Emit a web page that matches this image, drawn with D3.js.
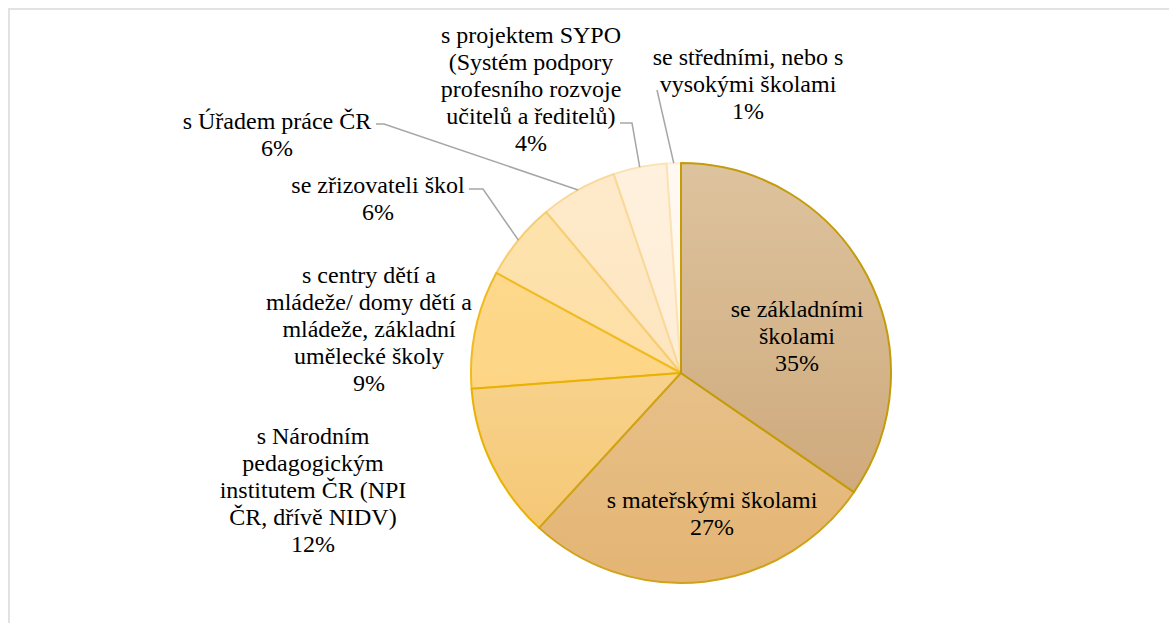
<!DOCTYPE html>
<html>
<head>
<meta charset="utf-8">
<script src="https://cdn.jsdelivr.net/npm/d3@7"></script>
</head>
<body style="margin:0">
<script>
// data
const categories = [
  "se základními školami",
  "s mateřskými školami",
  "s Národním pedagogickým institutem ČR (NPI ČR, dřívě NIDV)",
  "s centry dětí a mládeže/ domy dětí a mládeže, základní umělecké školy",
  "se zřizovateli škol",
  "s Úřadem práce ČR",
  "s projektem SYPO (Systém podpory profesního rozvoje učitelů a ředitelů)",
  "se středními, nebo s vysokými školami"
];
const shares = [34.6, 27.2, 12.0, 9.1, 6.0, 5.9, 4.1, 1.1];
const labelLines = [
  ["se základními", "školami"],
  ["s mateřskými školami"],
  ["s Národním", "pedagogickým", "institutem ČR (NPI", "ČR, dřívě NIDV)"],
  ["s centry dětí a", "mládeže/ domy dětí a", "mládeže, základní", "umělecké školy"],
  ["se zřizovateli škol"],
  ["s Úřadem práce ČR"],
  ["s projektem SYPO", "(Systém podpory", "profesního rozvoje", "učitelů a ředitelů)"],
  ["se středními, nebo s", "vysokými školami"]
];

// styles / layout
const topColors = ["#ddc39e", "#eacb9e", "#fbe0ad", "#fedb92", "#fee4b0", "#feeacb", "#fff1de", "#fff9f1"];
const bottomColors = ["#cba373", "#e4b574", "#f4c46c", "#fdd07a", "#fdd99b", "#fde0b3", "#fee8cd", "#fff5ea"];
const strokeColors = ["#c49b0a", "#cfa21a", "#e9b200", "#f0bb20", "#f6cd70", "#f9d898", "#fbe2b4", "#fdeed8"];
// label anchor (centre x, first baseline) and leader start
const labelPos = [
  { x: 797, y: 317 },
  { x: 712, y: 508 },
  { x: 313, y: 444 },
  { x: 369, y: 283 },
  { x: 378, y: 193 },
  { x: 277, y: 129 },
  { x: 531, y: 43 },
  { x: 748, y: 65 }
];
const leaders = [
  null,
  null,
  null,
  null,
  { x: 469, y: 189, ex: 483 },
  { x: 376, y: 124, ex: 384 },
  { x: 620, y: 123, ex: 632 },
  { x: 657, y: 90, ex: 657 }
];

const width = 1169, height = 623;
const cx = 681, cy = 373, radius = 210;
const lineH = 27;

const svg = d3.select("body").append("svg")
  .attr("width", width)
  .attr("height", height);

// frame
svg.append("path")
  .attr("d", `M9,${height} L9,9 L${width},9`)
  .attr("fill", "none")
  .attr("stroke", "#e2e2e2")
  .attr("stroke-width", 2);

const data = shares.map((v, i) => ({ name: categories[i], value: v, i }));
const total = d3.sum(shares);
const fmt = d3.format(".0%");

const pie = d3.pie().sort(null).value(d => d.value);
const arcs = pie(data);
const arc = d3.arc().innerRadius(0).outerRadius(radius);

const defs = svg.append("defs");
defs.selectAll("linearGradient")
  .data(data)
  .join("linearGradient")
  .attr("id", d => "grad" + d.i)
  .attr("gradientUnits", "userSpaceOnUse")
  .attr("x1", 0).attr("x2", 0)
  .attr("y1", -radius).attr("y2", radius)
  .call(g => {
    g.append("stop").attr("offset", "0%").attr("stop-color", d => topColors[d.i]);
    g.append("stop").attr("offset", "100%").attr("stop-color", d => bottomColors[d.i]);
  });

const g = svg.append("g").attr("transform", `translate(${cx},${cy})`);

g.selectAll("path.slice")
  .data(arcs.slice().reverse())
  .join("path")
  .attr("class", "slice")
  .attr("d", arc)
  .attr("fill", d => `url(#grad${d.data.i})`)
  .attr("stroke", d => strokeColors[d.data.i])
  .attr("stroke-width", 2)
  .attr("stroke-linejoin", "round");

// leader lines
arcs.forEach((d, i) => {
  const l = leaders[i];
  if (!l) return;
  const mid = (d.startAngle + d.endAngle) / 2;
  const px = cx + radius * Math.sin(mid);
  const py = cy - radius * Math.cos(mid);
  svg.append("polyline")
    .attr("points", `${l.x},${l.y} ${l.ex},${l.y} ${px},${py}`)
    .attr("fill", "none")
    .attr("stroke", "#a6a6a6")
    .attr("stroke-width", 1.5);
});

// labels, one text per line
const labelRows = arcs.flatMap((d, i) =>
  labelLines[i].concat([fmt(d.data.value / total)])
    .map((s, k) => ({ s, x: labelPos[i].x, y: labelPos[i].y + k * lineH }))
);

svg.selectAll("text.label")
  .data(labelRows)
  .join("text")
  .attr("class", "label")
  .attr("x", d => d.x)
  .attr("y", d => d.y)
  .attr("text-anchor", "middle")
  .attr("font-size", 24)
  .style("font-family", '"Liberation Serif", "FreeSerif", "Times New Roman", serif')
  .style("fill", "#000")
  .text(d => d.s);
</script>
</body>
</html>
